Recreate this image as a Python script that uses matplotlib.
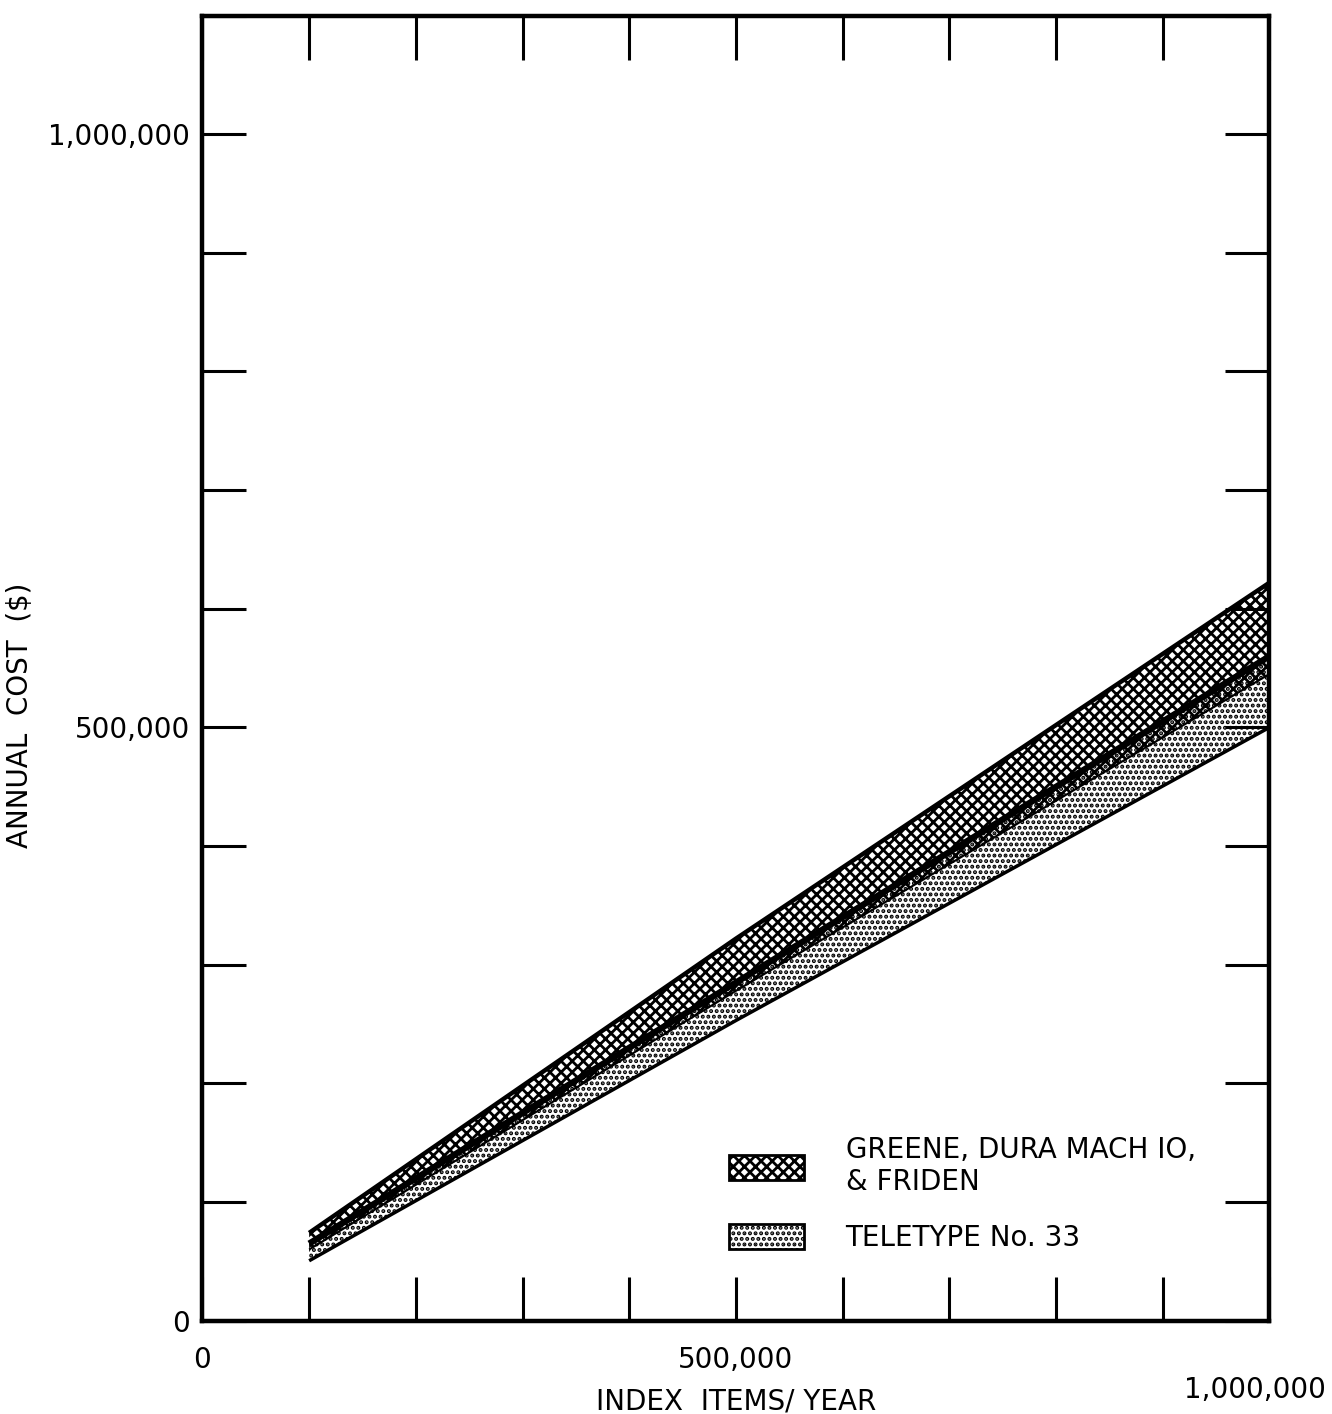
import matplotlib.pyplot as plt
from matplotlib.patches import Patch
from matplotlib.transforms import ScaledTranslation
import numpy as np

# Datos
items = [100000, 500000, 1000000]
greene_upper = [74000, 322000, 622000]
greene_lower = [60000, 278000, 545000]
teletype_upper = [65000, 285000, 560000]
teletype_lower = [50500, 253000, 500000]

labels = ["GREENE, DURA MACH IO,\n& FRIDEN", "TELETYPE No. 33"]

plt.rcParams['font.family'] = ['DejaVu Sans']
plt.rcParams['hatch.linewidth'] = 2.0

fig = plt.figure(figsize=(13.32, 14.14), dpi=100)
ax = fig.add_axes([0.152, 0.066, 0.801, 0.923])

# Bandas
ax.fill_between(items, greene_lower, greene_upper, facecolor='white',
                edgecolor='black', hatch='xxx', linewidth=0)
ax.fill_between(items, teletype_lower, teletype_upper, facecolor='none',
                edgecolor='black', hatch='...', linewidth=0)
ax.plot(items, greene_upper, color='black', lw=3.2, solid_capstyle='butt')
ax.plot(items, greene_lower, color='black', lw=1.5, solid_capstyle='butt')
ax.plot(items, teletype_upper, color='black', lw=4.5, solid_capstyle='butt')
ax.plot(items, teletype_lower, color='black', lw=2.5, solid_capstyle='butt')

# Ejes
ax.set_xlim(0, 1000000)
ax.set_ylim(0, 1100000)
ax.set_xticks([0, 500000, 1000000])
ax.set_xticklabels(['0', '500,000', '1,000,000'])
ax.set_yticks([0, 500000, 1000000])
ax.set_yticklabels(['0', '500,000', '1,000,000'])
ax.set_xticks(np.arange(100000, 1000001, 100000), minor=True)
ax.set_yticks(np.arange(100000, 1100001, 100000), minor=True)
ax.tick_params(which='both', direction='in', length=32, width=2.2,
               top=True, right=True, labelsize=20)
ax.tick_params(axis='x', pad=18)
ax.tick_params(axis='y', pad=9)
for sp in ax.spines.values():
    sp.set_linewidth(3.2)

# la etiqueta 1,000,000 del eje x queda mas abajo en el original
lbl = ax.get_xticklabels()[2]
lbl.set_transform(lbl.get_transform() + ScaledTranslation(-0.14, -0.3, fig.dpi_scale_trans))

ax.set_xlabel("INDEX  ITEMS/ YEAR", fontsize=20)
ax.set_ylabel("ANNUAL  COST  ($)", fontsize=20)
ax.xaxis.set_label_coords(0.5, -0.051)
ax.yaxis.set_label_coords(-0.158, 0.464)

# Leyenda
handles = [Patch(facecolor='white', edgecolor='black', hatch='xxx', lw=2),
           Patch(facecolor='white', edgecolor='black', hatch='...', lw=2)]
ax.legend(handles, labels, loc='upper left', bbox_to_anchor=(0.47, 0.161),
          frameon=False, fontsize=20, handlelength=2.7, handleheight=1.0,
          handletextpad=1.5, labelspacing=1.0)

fig.savefig("out.png", dpi=100)
plt.close(fig)
